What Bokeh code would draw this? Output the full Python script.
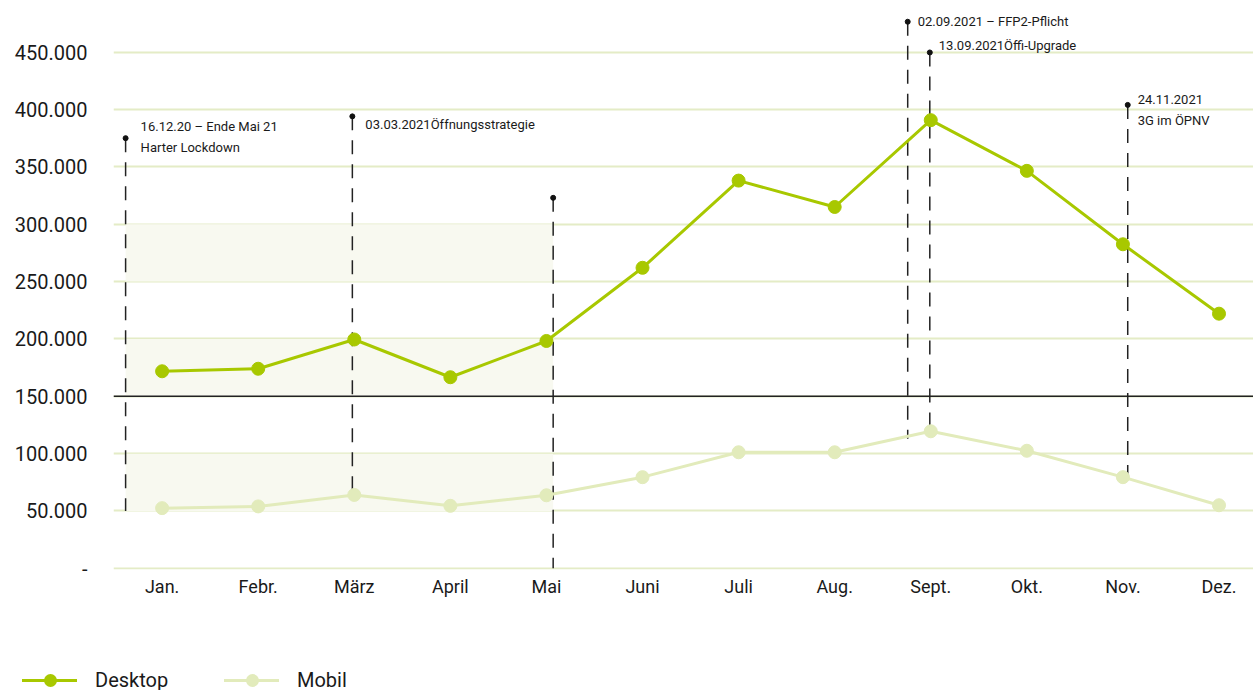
from bokeh.plotting import figure
from bokeh.layouts import column
from bokeh.models import Range1d, Span, Label, FixedTicker, BoxAnnotation, Div
from bokeh.embed import file_html
from bokeh.resources import INLINE

FONT = "Roboto"

months = ["Jan.", "Febr.", "März", "April", "Mai", "Juni", "Juli", "Aug.", "Sept.", "Okt.", "Nov.", "Dez."]
desktop = [171800, 174000, 199500, 166600, 198200, 262000, 338000, 315000, 390700, 346500, 282500, 222000]
mobil = [52500, 54000, 64000, 54500, 63700, 79500, 101200, 101200, 119500, 102500, 79500, 55000]

y_ticks = [0, 50000, 100000, 150000, 200000, 250000, 300000, 350000, 400000, 450000]
y_tick_labels = ["-", "50.000", "100.000", "150.000", "200.000", "250.000", "300.000", "350.000", "400.000", "450.000"]

series_names = ["Desktop", "Mobil"]

# event markers: x position (month index), top value, bottom value
ev_x = [-0.38, 1.98, 4.07, 7.76, 7.99, 10.05]
ev_top = [375000, 394000, 323000, 476500, 449700, 404000]
ev_bottom = [50000, 64000, 0, 113000, 119500, 79500]

ev_texts = [
    ["16.12.20 – Ende Mai 21", "Harter Lockdown"],
    ["03.03.2021Öffnungsstrategie"],
    [],
    ["02.09.2021 – FFP2-Pflicht"],
    ["13.09.2021Öffi-Upgrade"],
    ["24.11.2021", "3G im ÖPNV"],
]
ev_text_y = [[385500, 367000], [387200], [], [477000], [456000], [409000, 390000]]
ev_text_dx = [15, 13, 0, 10, 9, 10]

# shaded bands during lockdown period
band_bottoms = [50000, 150000, 250000]
band_tops = [100000, 200000, 300000]

DESKTOP_C = "#a8c800"
MOBIL_C = "#e2ebbb"
GRID_C = "#e4ecc6"
TEXT_C = "#1a1a1a"
series_colors = [DESKTOP_C, MOBIL_C]

p = figure(width=1253, height=640, output_backend="svg", toolbar_location=None,
           x_range=Range1d(-0.506, 11.359), y_range=Range1d(-1000, 495000),
           min_border_left=113, min_border_right=0, min_border_top=0, min_border_bottom=71)
p.outline_line_color = None
p.background_fill_color = "white"
p.border_fill_color = "white"

# axes
p.yaxis.ticker = FixedTicker(ticks=y_ticks)
p.yaxis.major_label_overrides = {t: l for t, l in zip(y_ticks, y_tick_labels)}
p.yaxis.axis_line_color = None
p.yaxis.major_tick_line_color = None
p.yaxis.minor_tick_line_color = None
p.yaxis.major_label_standoff = 20
p.yaxis.major_label_text_font = FONT
p.yaxis.major_label_text_font_size = "20px"
p.yaxis.major_label_text_color = TEXT_C

p.xaxis.ticker = FixedTicker(ticks=list(range(len(months))))
p.xaxis.major_label_overrides = {i: m for i, m in enumerate(months)}
p.xaxis.axis_line_color = None
p.xaxis.major_tick_line_color = None
p.xaxis.minor_tick_line_color = None
p.xaxis.major_label_standoff = 0
p.xaxis.major_label_text_font = FONT
p.xaxis.major_label_text_font_size = "18px"
p.xaxis.major_label_text_color = TEXT_C

p.xgrid.grid_line_color = None
p.ygrid.ticker = FixedTicker(ticks=y_ticks)
p.ygrid.grid_line_color = GRID_C
p.ygrid.grid_line_width = 2

for b, t in zip(band_bottoms, band_tops):
    p.add_layout(BoxAnnotation(left=ev_x[0], right=ev_x[2], bottom=b, top=t,
                               fill_color="#f8f9f0", fill_alpha=1, line_color=None, level="underlay"))

p.add_layout(Span(location=150000, dimension="width", line_color="#222222", line_width=1.5))

# event lines
p.segment(x0=ev_x, y0=ev_top, x1=ev_x, y1=ev_bottom, line_color="#222222",
          line_width=1.5, line_dash="14 10")
p.scatter(x=ev_x, y=ev_top, size=5, color="#111111")

for x, lines, ys, dx in zip(ev_x, ev_texts, ev_text_y, ev_text_dx):
    for txt, yy in zip(lines, ys):
        p.add_layout(Label(x=x, y=yy, text=txt, x_offset=dx, text_font=FONT,
                           text_font_size="13px", text_color=TEXT_C,
                           text_baseline="middle"))

xs = list(range(len(months)))
p.line(xs, mobil, line_color=MOBIL_C, line_width=3)
p.scatter(xs, mobil, size=13, color=MOBIL_C)
p.line(xs, desktop, line_color=DESKTOP_C, line_width=3)
p.scatter(xs, desktop, size=13, color=DESKTOP_C)

# legend strip below the chart (HTML, left-aligned to the page)
leg_x0 = [22, 224]
parts = []
for x0, name, col in zip(leg_x0, series_names, series_colors):
    parts.append(
        f'<div style="position:absolute;left:{x0}px;top:39px;width:55px;height:3px;background:{col};"></div>'
        f'<div style="position:absolute;left:{x0 + 22}px;top:34px;width:13px;height:13px;border-radius:50%;background:{col};"></div>'
        f'<div style="position:absolute;left:{x0 + 73}px;top:29px;font-family:Roboto;font-size:20px;'
        f'line-height:22px;color:{TEXT_C};white-space:nowrap;">{name}</div>'
    )
legend_div = Div(text='<div style="position:relative;width:1253px;height:50px;">' + "".join(parts) + "</div>",
                 width=1253, height=50, margin=0)

open("out.html", "w").write(file_html(column(p, legend_div, spacing=0), INLINE))
